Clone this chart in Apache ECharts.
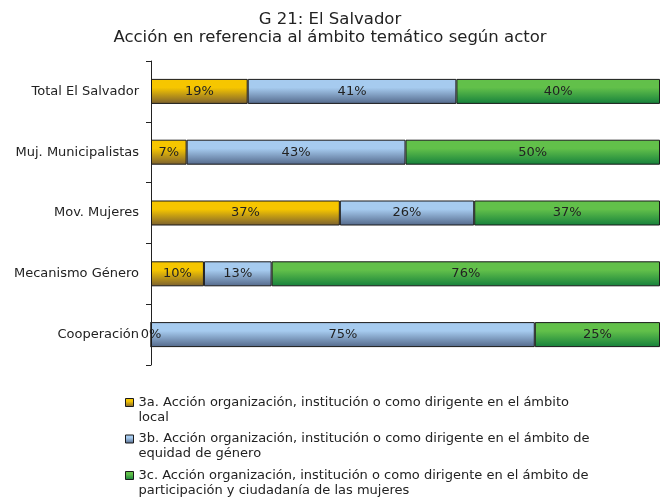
<!DOCTYPE html>
<html>
<head>
<meta charset="utf-8">
<script src="https://cdn.jsdelivr.net/npm/echarts@6/dist/echarts.min.js"></script>
<style>
  html, body { margin: 0; padding: 0; background: #fff; }
  #chart { width: 660px; height: 499px; }
</style>
</head>
<body>
<div id="chart"></div>
<script>
// actores
const actores = ['Total El Salvador', 'Muj. Municipalistas', 'Mov. Mujeres', 'Mecanismo Género', 'Cooperación'];

// porcentajes por ámbito
const ambitoLocal = [19, 7, 37.1, 10.4, 0];
const ambitoEquidad = [41, 43, 26.4, 13.3, 75.4];
const ambitoParticipacion = [40, 50, 36.5, 76.3, 24.6];

const nombres = [
  '3a. Acción organización, institución o como dirigente en el ámbito\nlocal',
  '3b. Acción organización, institución o como dirigente en el ámbito de\nequidad de género',
  '3c. Acción organización, institución o como dirigente en el ámbito de\nparticipación y ciudadanía de las mujeres'
];

const fuente = 'DejaVu Sans';

function degradado(claro, oscuro) {
  return new echarts.graphic.LinearGradient(0, 0, 0, 1, [
    { offset: 0, color: claro },
    { offset: 0.35, color: claro },
    { offset: 1, color: oscuro }
  ]);
}

const colores = [
  degradado('#f6c600', '#7a5f30'),
  degradado('#a6cbef', '#53688a'),
  degradado('#62c04a', '#15803c')
];

function serie(nombre, datos, color) {
  return {
    name: nombre,
    type: 'bar',
    stack: 'total',
    barWidth: 25,
    data: datos,
    itemStyle: {
      color: color,
      borderColor: '#1a1a1a',
      borderWidth: 1
    },
    label: {
      show: true,
      position: 'inside',
      color: '#222',
      fontFamily: fuente,
      fontSize: 13,
      formatter: p => Math.round(p.value) + '%'
    }
  };
}

const chartOpts = {
  animation: false,
  title: {
    text: 'G 21: El Salvador\nAcción en referencia al ámbito temático según actor',
    left: 'center',
    top: 6,
    padding: [5, 5, 5, 15],
    textStyle: {
      fontFamily: fuente,
      fontSize: 16.5,
      fontWeight: 'normal',
      color: '#222',
      lineHeight: 18
    }
  },
  legend: {
    orient: 'vertical',
    left: 125,
    top: 380,
    height: 140,
    padding: 0,
    itemWidth: 8,
    itemHeight: 8,
    itemGap: -8.5,
    icon: 'rect',
    selectedMode: false,
    // línea vacía delante para que el icono quede junto a la primera línea
    formatter: n => '\n' + n,
    textStyle: {
      fontFamily: fuente,
      fontSize: 13,
      color: '#222',
      lineHeight: 15
    },
    data: nombres.map((n, i) => ({
      name: n,
      itemStyle: { color: colores[i], borderColor: '#1a1a1a', borderWidth: 1 }
    }))
  },
  grid: {
    left: 151,
    right: -1,
    top: 61,
    bottom: 134
  },
  xAxis: {
    type: 'value',
    min: 0,
    max: 100,
    show: false
  },
  yAxis: {
    type: 'category',
    inverse: true,
    data: actores,
    axisLine: { lineStyle: { color: '#222', width: 1 } },
    axisTick: { show: true, length: 5, lineStyle: { color: '#222' } },
    axisLabel: {
      margin: 12,
      fontFamily: fuente,
      fontSize: 13,
      color: '#222'
    }
  },
  series: [
    serie(nombres[0], ambitoLocal, colores[0]),
    serie(nombres[1], ambitoEquidad, colores[1]),
    serie(nombres[2], ambitoParticipacion, colores[2])
  ]
};

const chart = echarts.init(document.getElementById('chart'));
chart.setOption(chartOpts);
</script>
</body>
</html>
